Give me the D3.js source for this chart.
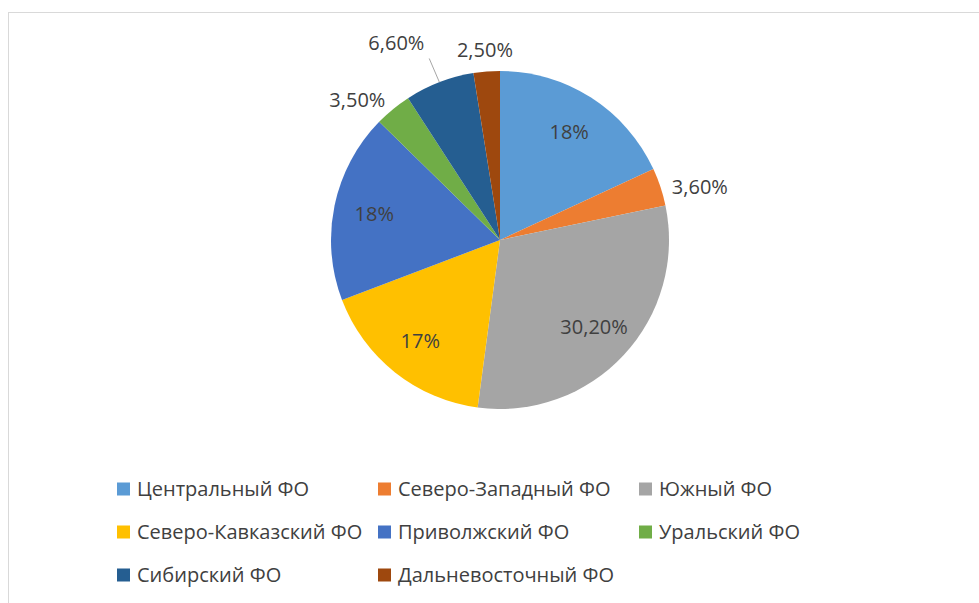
<!DOCTYPE html>
<html>
<head>
<meta charset="utf-8">
<script src="https://cdn.jsdelivr.net/npm/d3@7"></script>
<style>
    body { margin: 0; background: #fff; }
    text { font-family: "Open Sans", sans-serif; fill: #404040; }
</style>
</head>
<body>
<svg id="chart" width="979" height="603"></svg>
<script>
var regions = ["Центральный ФО", "Северо-Западный ФО", "Южный ФО", "Северо-Кавказский ФО",
    "Приволжский ФО", "Уральский ФО", "Сибирский ФО", "Дальневосточный ФО"];
var shares = [18, 3.6, 30.2, 17, 18, 3.5, 6.6, 2.5];
var shareLabels = ["18%", "3,60%", "30,20%", "17%", "18%", "3,50%", "6,60%", "2,50%"];
var colors = ["#5b9bd5", "#ed7d31", "#a5a5a5", "#ffc000", "#4472c4", "#70ad47", "#255e91", "#9e480e"];

var width = 979, height = 603,
    cx = 500, cy = 240, radius = 169,
    fontSize = 20;

var svg = d3.select("#chart");

// chart area frame (cut by the window on the right and bottom)
svg.append("rect")
    .attr("x", 8.5).attr("y", 12.5)
    .attr("width", width).attr("height", height)
    .attr("fill", "#fff")
    .attr("stroke", "#d9d9d9")
    .attr("stroke-width", 1);

var data = regions.map(function (name, i) {
    return { name: name, value: shares[i], label: shareLabels[i], color: colors[i] };
});

var pie = d3.pie().sort(null).value(function (d) { return d.value; });
var arcs = pie(data);

var arc = d3.arc().innerRadius(0).outerRadius(radius);
var inner = d3.arc().innerRadius(radius * 0.76).outerRadius(radius * 0.76);

var g = svg.append("g").attr("transform", "translate(" + cx + "," + cy + ")");

g.selectAll("path.slice").data(arcs).enter().append("path")
    .attr("class", "slice")
    .attr("d", arc)
    .attr("fill", function (d) { return d.data.color; });

function midAngle(d) { return (d.startAngle + d.endAngle) / 2; }

// big slices get the label inside
g.selectAll("text.in").data(arcs.filter(function (d) { return d.data.value > 10; })).enter()
    .append("text")
    .attr("class", "in")
    .attr("transform", function (d) { return "translate(" + inner.centroid(d) + ")"; })
    .attr("text-anchor", "middle")
    .attr("dy", "0.35em")
    .attr("font-size", fontSize)
    .text(function (d) { return d.data.label; });

// small slices: label outside, the crowded one pushed further with a leader line
var leaderFor = "Сибирский ФО";
var outs = arcs.filter(function (d) { return d.data.value <= 10; });
outs.forEach(function (d) {
    var a = midAngle(d),
        lead = d.data.name == leaderFor,
        s = Math.sin(a), c = Math.cos(a),
        r = radius + (lead ? 42 : (Math.abs(s) > 0.3 ? 12 : 22));
    d.lx = r * s;
    d.ly = -r * c + (s > 0.3 ? 4 : 0);
    d.anchor = s > 0.3 ? "start" : (s < -0.3 ? "end" : "middle");
    if (lead) {
        g.append("line")
            .attr("x1", radius * s).attr("y1", -radius * c)
            .attr("x2", (radius + 34) * s + 2).attr("y2", -(radius + 34) * c + 8)
            .attr("stroke", "#a6a6a6")
            .attr("stroke-width", 1);
    }
});

g.selectAll("text.out").data(outs).enter()
    .append("text")
    .attr("class", "out")
    .attr("x", function (d) { return d.lx; })
    .attr("y", function (d) { return d.ly; })
    .attr("text-anchor", function (d) { return d.anchor; })
    .attr("dy", "0.35em")
    .attr("font-size", fontSize)
    .text(function (d) { return d.data.label; });

// legend, three columns
var legend = svg.append("g").selectAll("g").data(data).enter().append("g")
    .attr("transform", function (d, i) {
        return "translate(" + (117 + (i % 3) * 261) + "," + (489 + Math.floor(i / 3) * 43) + ")";
    });

legend.append("rect")
    .attr("x", 0).attr("y", -6.5)
    .attr("width", 13).attr("height", 13)
    .attr("fill", function (d) { return d.color; });

legend.append("text")
    .attr("x", 20)
    .attr("dy", "0.35em")
    .attr("font-size", fontSize)
    .text(function (d) { return d.name; });
</script>
</body>
</html>
